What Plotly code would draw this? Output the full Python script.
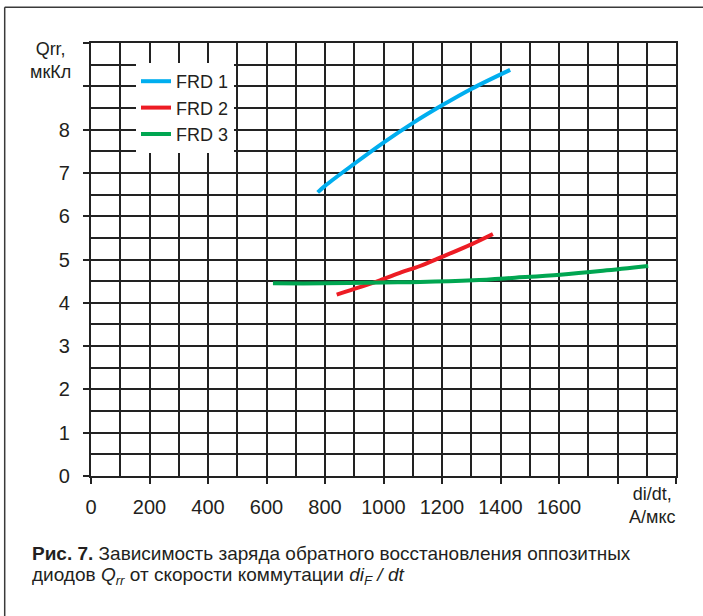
import plotly.graph_objects as go

# Qrr vs di/dt for three fast-recovery diodes
frd1_x = [775, 800, 900, 1000, 1100, 1200, 1300, 1433]
frd1_y = [6.55, 6.70, 7.21, 7.70, 8.15, 8.56, 8.94, 9.38]

frd2_x = [840, 900, 988, 1060, 1125, 1200, 1300, 1374]
frd2_y = [4.19, 4.32, 4.52, 4.70, 4.85, 5.06, 5.35, 5.59]

frd3_x = [622, 800, 1000, 1125, 1307, 1450, 1604, 1750, 1905]
frd3_y = [4.45, 4.45, 4.47, 4.48, 4.52, 4.58, 4.65, 4.74, 4.85]

series_names = ["FRD 1", "FRD 2", "FRD 3"]
series_colors = ["#00AEEF", "#ED1C24", "#00A651"]

x_ticks = list(range(0, 2001, 200))
x_ticktext = [str(v) if v <= 1600 else "" for v in x_ticks]
y_ticks = list(range(0, 11))
y_ticktext = [str(v) if v <= 8 else "" for v in y_ticks]

W, H = 703, 616
L, R, T, B = 91, 27, 43, 140
PW, PH = W - L - R, H - T - B

def px(x):
    return (x - L) / PW

def py(y):
    return (H - B - y) / PH

GRID = "#222222"
TEXT = "#231F20"
FONT = "Liberation Sans, Arial, sans-serif"
CAP_FONT = "Liberation Sans Narrow, Liberation Sans, sans-serif"

fig = go.Figure()
for xs, ys, name, color in zip([frd1_x, frd2_x, frd3_x], [frd1_y, frd2_y, frd3_y],
                               series_names, series_colors):
    fig.add_trace(go.Scatter(x=xs, y=ys, name=name, mode="lines",
                             line=dict(color=color, width=4, shape="spline")))

axis_common = dict(showline=True, mirror=True, linecolor=GRID, linewidth=2.2,
                   showgrid=True, gridcolor=GRID, gridwidth=1.7,
                   ticks="outside", ticklen=6, tickcolor=GRID, tickwidth=1.7,
                   zeroline=False, tickfont=dict(family=FONT, size=20, color=TEXT))

fig.update_layout(
    width=W, height=H,
    margin=dict(l=L, r=R, t=T, b=B),
    paper_bgcolor="white", plot_bgcolor="white",
    xaxis=dict(range=[0, 2000], tickvals=x_ticks, ticktext=x_ticktext,
               minor=dict(dtick=100, showgrid=True, gridcolor=GRID, gridwidth=1.7,
                          ticks=""),
               ticklabelstandoff=6, **axis_common),
    yaxis=dict(range=[0, 10], tickvals=y_ticks, ticktext=y_ticktext,
               minor=dict(dtick=0.5, showgrid=True, gridcolor=GRID, gridwidth=1.7,
                          ticks=""),
               ticklabelstandoff=9, **axis_common),
    legend=dict(x=px(136), y=py(63), xanchor="left", yanchor="top",
                bgcolor="white", borderwidth=0,
                font=dict(family=FONT, size=18, color=TEXT),
                tracegroupgap=0),
    showlegend=True,
)

# Outer frame around the figure (open to the right and bottom edges),
# positioned in pixels relative to the plot-area corner (0, 1)
frame_dx = L - 4.7      # frame left edge, pixels left of the plot area
frame_dy = T - 7.3      # frame top edge, pixels above the plot area
frame_line = dict(color="#3a3a3a", width=1.5)
fig.add_shape(type="line", xref="paper", yref="paper",
              xsizemode="pixel", ysizemode="pixel", xanchor=0, yanchor=1,
              x0=-frame_dx, x1=W, y0=frame_dy, y1=frame_dy,
              line=frame_line, layer="above")
fig.add_shape(type="line", xref="paper", yref="paper",
              xsizemode="pixel", ysizemode="pixel", xanchor=0, yanchor=1,
              x0=-frame_dx, x1=-frame_dx, y0=frame_dy, y1=-H,
              line=frame_line, layer="above")

# Axis titles
fig.add_annotation(xref="paper", yref="paper", x=px(51), y=py(60),
                   xanchor="center", yanchor="middle",
                   text="Qrr,<br>мкКл", showarrow=False, align="center",
                   font=dict(family=FONT, size=18, color=TEXT))
fig.add_annotation(xref="paper", yref="paper", x=px(652), y=py(506),
                   xanchor="center", yanchor="middle",
                   text="di/dt,<br>А/мкс", showarrow=False, align="center",
                   font=dict(family=FONT, size=18, color=TEXT))

# Figure caption
fig.add_annotation(xref="paper", yref="paper", x=px(30), y=py(553),
                   xanchor="left", yanchor="middle", showarrow=False,
                   text="<b>Рис. 7.</b> Зависимость заряда обратного восстановления оппозитных",
                   font=dict(family=CAP_FONT, size=19, color=TEXT))
fig.add_annotation(xref="paper", yref="paper", x=px(30), y=py(576),
                   xanchor="left", yanchor="middle", showarrow=False,
                   text="диодов <i>Q</i><sub><i>rr</i></sub> от скорости коммутации "
                        "<i>di</i><sub><i>F</i></sub><i> / dt</i>",
                   font=dict(family=CAP_FONT, size=19, color=TEXT))

fig.write_html("out.html")
